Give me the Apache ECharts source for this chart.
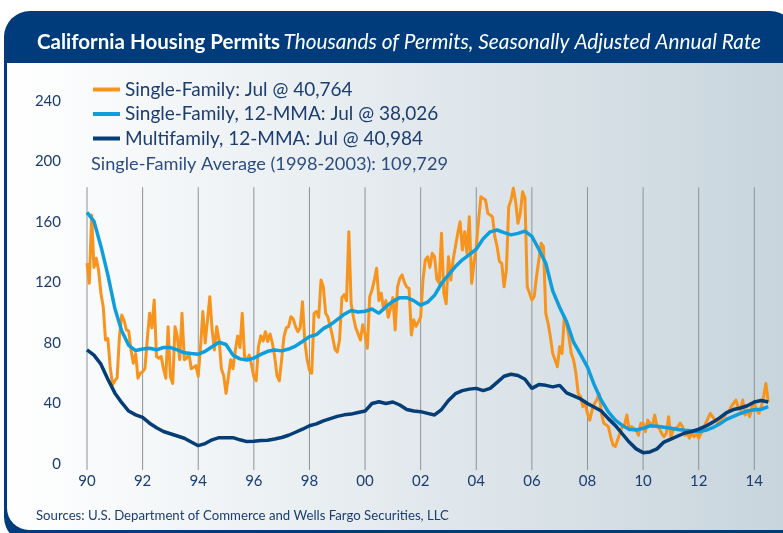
<!DOCTYPE html>
<html>
<head>
<meta charset="utf-8">
<title>California Housing Permits</title>
<script src="https://cdn.jsdelivr.net/npm/echarts@6/dist/echarts.min.js"></script>
<style>
    html, body {margin: 0; padding: 0; background: #ffffff;}
    #main {width: 783px; height: 533px;}
</style>
</head>
<body>
<div id="main"></div>
<script type="text/javascript">
    // first month / quarter of the data
    var startYear = 1990;

    // single-family permits, monthly, Jan 1990 - Jul 2014 (thousands, SAAR)
    var singleFamily = [
        132.7, 119.5, 164.6, 130, 136, 128, 112.9, 104, 82, 83, 64.3, 52.2,
        55, 57, 84, 98.5, 95, 88.6, 88, 75.4, 66.6, 73, 56.7, 60,
        61, 63, 82, 99.6, 90, 108.4, 71, 70, 71, 63, 56.7, 90.8,
        57.5, 53.3, 90.8, 84, 69, 99.6, 69, 70, 73, 63, 64, 65,
        58, 77.6, 100.8, 80, 95, 110.6, 88.6, 75.4, 90.8, 82, 63, 58.4,
        46.7, 57.5, 69, 63, 75, 84.7, 77, 99.6, 71, 69, 72, 65.7,
        57.5, 55, 77.6, 84.7, 81.3, 87.5, 81, 86, 80, 71, 58.4, 55,
        69, 84, 90, 90.8, 97.4, 96, 90.8, 87.5, 90, 107.3, 81, 69,
        62, 60, 99.6, 100.8, 97, 121.6, 117, 99.6, 97, 90.8, 84, 76,
        74, 82, 110, 112, 108, 153.6, 106, 97, 90, 86, 82, 92,
        86, 76.5, 110.6, 115, 121.6, 129.4, 108, 113, 102, 108, 97, 103,
        110, 88.6, 117, 122.8, 125, 120, 117, 116, 85.3, 95.4, 91, 94,
        97, 121.7, 134.9, 137, 130, 139.3, 137, 122, 119.5, 152.5, 112.9, 106,
        137, 121.6, 134.9, 143.7, 152.5, 160.2, 141.5, 153.6, 139.3, 163.5, 119.5, 132.7,
        143.7, 161.3, 176.7, 175.6, 174.5, 165.7, 164.6, 163.5, 150.3, 143.7, 133.8, 132.7,
        117.2, 128, 170.1, 174.5, 182.3, 173.4, 159.1, 165.7, 180, 176, 117.2, 112.9,
        108.4, 110.6, 123.8, 134.9, 145.9, 143.7, 99.6, 93, 84, 73, 68.8, 64.3,
        77.6, 73, 97.4, 93, 84, 73, 68.8, 60, 46.7, 44.5, 37.9, 40,
        33.5, 29, 35.7, 40, 42.3, 46.7, 33.5, 27, 26, 24.7, 18, 12.6,
        11.5, 15.9, 20.3, 24.7, 26, 32.4, 22.5, 24.7, 23.6, 22.5, 19, 27,
        27, 21.4, 29, 27, 24.7, 32.4, 24.7, 23.6, 20.3, 18, 20.3, 31.3,
        18, 22.5, 23.6, 24.7, 27, 24.7, 19, 20.3, 17.1, 20.3, 18, 20.3,
        17.1, 20.3, 22.5, 27, 30.2, 33.5, 31.3, 29, 27, 29, 30.2, 31.3,
        33.5, 34.6, 37.9, 40, 42.3, 37.9, 35.7, 42.3, 32.4, 35.7, 31.3, 37.9,
        40, 35.7, 33.5, 37.9, 44.5, 53.3, 40.8
    ];

    // single-family 12-MMA, read quarterly, 1990Q1 - mid 2014
    var singleFamilyMma = [
        166.4, 160.5, 144, 125, 103, 88, 78.5, 75,
        76, 76.5, 75.5, 77, 77, 75.4, 73.5, 73,
        72.6, 74.5, 77.5, 80.5, 79, 72, 69.5, 68.8,
        70, 72.5, 74.5, 75.4, 74.8, 76, 78, 81,
        84.2, 85.5, 89.5, 92, 95.5, 99, 101.5, 100.5,
        101, 102.5, 99.6, 104, 107.5, 110, 110, 108,
        105, 107, 111.5, 119.5, 125, 130.5, 135, 138.5,
        142, 149, 153.5, 154.7, 153, 151.5, 152.5, 154,
        150.5, 142, 132.7, 114.5, 103.5, 94, 80.5, 72.5,
        64, 52, 42, 34.5, 29, 25.5, 23, 22.5,
        23.6, 25.3, 25, 24.3, 23.6, 22.8, 22.3, 22,
        21.5, 22.3, 24, 26.5, 29.5, 31.5, 33.4, 35,
        35.9, 36.2, 38
    ];

    // multifamily 12-MMA, read quarterly, 1990Q1 - mid 2014
    var multiFamilyMma = [
        75.4, 72, 66, 56, 47, 40.5, 35, 32.5,
        30.8, 27, 24, 21.5, 20, 18.5, 17, 14.5,
        12.1, 13.5, 16, 17.4, 17.4, 17.4, 16, 14.8,
        15, 15.5, 15.7, 16.5, 17.5, 19, 21, 23,
        25.3, 26.5, 28.5, 30, 31.5, 32.5, 33, 34,
        35, 40, 41.2, 40, 41, 39, 36, 35,
        34.6, 33.5, 32.4, 36, 42, 46.5, 48.5, 49.5,
        50, 48.5, 50, 54, 58, 59.3, 58.5, 56,
        50, 52.5, 52, 51, 52, 47, 45, 43,
        40, 37.5, 35, 30, 25.5, 20, 14.5, 10,
        7.5, 8, 10, 14.5, 16.5, 18.5, 20.5, 21.5,
        23, 25, 27.5, 30.5, 34, 36, 37, 38.5,
        41, 42, 41
    ];

    var yearTicks = [1990, 1992, 1994, 1996, 1998, 2000, 2002, 2004, 2006, 2008, 2010, 2012, 2014];
    var seriesNames = [
        'Single-Family: Jul @ 40,764',
        'Single-Family, 12-MMA: Jul @ 38,026',
        'Multifamily, 12-MMA: Jul @ 40,984'
    ];
    var averageNote = 'Single-Family Average (1998-2003): 109,729';

    var navy = '#003c7b';
    var textBlue = '#1b3d72';

    var monthly = singleFamily.map(function (v, i) { return [startYear + i / 12, v]; });
    var sfQuarterly = singleFamilyMma.map(function (v, i) { return [startYear + i / 4, v]; });
    var mfQuarterly = multiFamilyMma.map(function (v, i) { return [startYear + i / 4, v]; });

    var chart = echarts.init(document.getElementById('main'));

    var option = {
        animation: false,
        textStyle: {fontFamily: 'Lato, sans-serif'},
        graphic: [
            {
                type: 'rect', left: 4, top: 11, z: -10, silent: true,
                shape: {width: 792, height: 532, r: 26},
                style: {fill: navy}
            },
            {
                type: 'rect', left: 7, top: 63, z: -9, silent: true,
                shape: {width: 790, height: 467, r: [0, 0, 0, 22]},
                style: {
                    fill: new echarts.graphic.LinearGradient(0, 0, 1, 0, [
                        {offset: 0, color: '#ffffff'},
                        {offset: 1, color: '#c7d4dc'}
                    ])
                }
            },
            {
                type: 'text', left: 37, top: 32, z: 1, silent: true,
                style: {
                    text: '{b|California Housing Permits} {i|Thousands of Permits, Seasonally Adjusted Annual Rate}',
                    rich: {
                        b: {fontFamily: 'Lato', fontWeight: 'bold', fontSize: 20.5, fill: '#ffffff'},
                        i: {fontFamily: 'Lato', fontStyle: 'italic', fontSize: 20.8, fill: '#ffffff'}
                    }
                }
            },
            {
                type: 'text', left: 91, top: 155, z: 1, silent: true,
                style: {text: averageNote, fontFamily: 'Lato', fontSize: 18.2, fill: '#2c4d7e'}
            },
            {
                type: 'text', left: 36, top: 509, z: 1, silent: true,
                style: {
                    text: 'Sources: U.S. Department of Commerce and Wells Fargo Securities, LLC',
                    fontFamily: 'Lato', fontSize: 13.2, fill: textBlue
                }
            }
        ],
        legend: {
            orient: 'vertical',
            left: 88,
            top: 75,
            itemWidth: 27,
            itemHeight: 4,
            itemGap: 5.5,
            icon: 'rect',
            textStyle: {fontFamily: 'Lato', fontSize: 19, color: textBlue},
            data: seriesNames
        },
        grid: {left: 87, right: 12, top: 101, bottom: 69},
        xAxis: {
            type: 'value',
            min: 1990,
            max: 2014.6,
            interval: 2,
            z: 5,
            axisLine: {show: false},
            axisTick: {show: false},
            splitLine: {show: false},
            axisLabel: {
                margin: 10,
                fontFamily: 'Lato',
                fontSize: 15,
                color: textBlue,
                formatter: function (v) {
                    if (v % 2 !== 0) return '';
                    return String(v).slice(2);
                }
            }
        },
        yAxis: {
            type: 'value',
            min: 0,
            max: 240,
            interval: 40,
            z: 5,
            axisLine: {show: false},
            axisTick: {show: false},
            splitLine: {show: false},
            axisLabel: {margin: 26, fontFamily: 'Lato', fontSize: 15, color: textBlue}
        },
        series: [
            {
                // vertical year lines, from just below 0 up to about 183
                name: 'gridlines',
                type: 'custom',
                data: yearTicks.map(function (y) { return [y]; }),
                z: 1,
                silent: true,
                clip: false,
                renderItem: function (params, api) {
                    var bottom = api.coord([api.value(0), -4]);
                    var top = api.coord([api.value(0), 183]);
                    return {
                        type: 'line',
                        shape: {x1: bottom[0], y1: bottom[1], x2: top[0], y2: top[1]},
                        style: {stroke: '#8e9397', lineWidth: 1}
                    };
                }
            },
            {
                name: seriesNames[0],
                type: 'line',
                data: monthly,
                showSymbol: false,
                color: '#f7941d',
                lineStyle: {width: 3, color: '#f7941d', join: 'round'},
                z: 2
            },
            {
                name: seriesNames[1],
                type: 'line',
                data: sfQuarterly,
                showSymbol: false,
                color: '#0f9edb',
                lineStyle: {width: 3.5, color: '#0f9edb'},
                z: 3
            },
            {
                name: seriesNames[2],
                type: 'line',
                data: mfQuarterly,
                showSymbol: false,
                color: '#053d77',
                lineStyle: {width: 3.5, color: '#053d77'},
                z: 4
            }
        ]
    };

    chart.setOption(option);
</script>
</body>
</html>
